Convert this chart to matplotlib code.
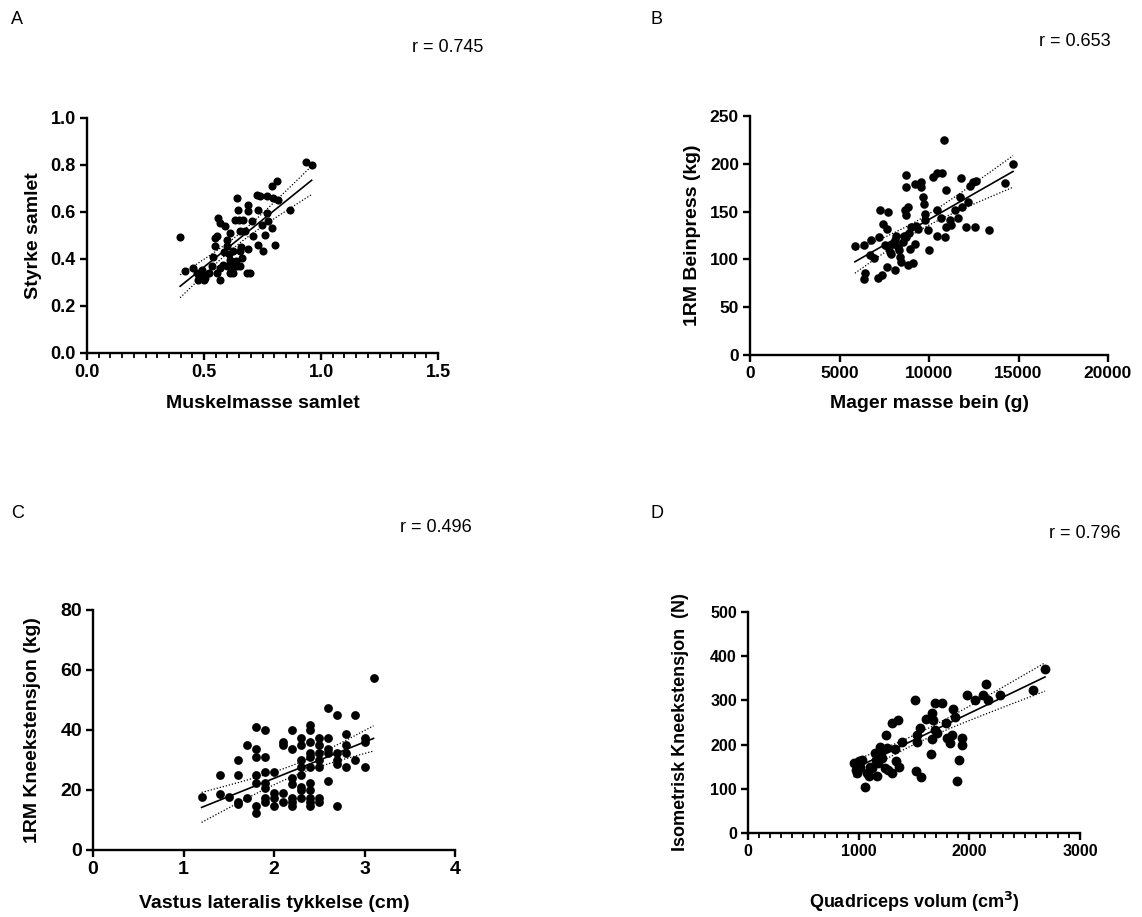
import numpy as np
import matplotlib
matplotlib.use('Agg')
import matplotlib.pyplot as plt
from matplotlib.ticker import MultipleLocator

plt.rcParams['font.family'] = ['Liberation Sans', 'DejaVu Sans']

# ------------------------------------------------------------------
# Data
# ------------------------------------------------------------------
# A: Muskelmasse samlet vs Styrke samlet
muskel_x = [0.398, 0.42, 0.452, 0.47, 0.475, 0.48, 0.495, 0.505, 0.533, 0.54,
            0.547, 0.555, 0.561, 0.569, 0.59, 0.569, 0.58, 0.555, 0.547, 0.597,
            0.611, 0.611, 0.611, 0.626, 0.626, 0.626, 0.633, 0.64, 0.647, 0.651,
            0.654, 0.654, 0.654, 0.661, 0.668, 0.683, 0.69, 0.69, 0.69, 0.697,
            0.704, 0.711, 0.725, 0.732, 0.732, 0.739, 0.747, 0.754, 0.761, 0.768,
            0.768, 0.775, 0.789, 0.789, 0.796, 0.803, 0.81, 0.818, 0.868, 0.938,
            0.96, 0.597, 0.597, 0.618, 0.64, 0.49, 0.52, 0.498, 0.569, 0.605,
            0.62, 0.636, 0.66, 0.585, 0.675]
styrke_y = [0.492, 0.35, 0.362, 0.34, 0.31, 0.325, 0.33, 0.32, 0.369, 0.41,
            0.49, 0.497, 0.574, 0.553, 0.539, 0.312, 0.376, 0.34, 0.454, 0.482,
            0.51, 0.34, 0.397, 0.433, 0.383, 0.34, 0.567, 0.66, 0.61, 0.567,
            0.518, 0.433, 0.369, 0.404, 0.567, 0.34, 0.631, 0.603, 0.444, 0.34,
            0.56, 0.496, 0.674, 0.61, 0.461, 0.667, 0.546, 0.433, 0.504, 0.667,
            0.596, 0.56, 0.532, 0.709, 0.66, 0.461, 0.73, 0.652, 0.61, 0.811,
            0.80, 0.454, 0.369, 0.369, 0.369, 0.355, 0.34, 0.312, 0.362, 0.42,
            0.35, 0.39, 0.45, 0.43, 0.52]
fit_a_x = [0.398, 0.96]
fit_a_y = [0.284, 0.735]

# B: Mager masse bein (g) vs 1RM Beinpress (kg)
mager_x = [5860, 6361, 6417, 6361, 6752, 6696, 6938, 7217, 7254, 7161,
           7347, 7440, 7626, 7682, 7533, 7719, 7626, 7905, 8091, 7998,
           8184, 8277, 8370, 8556, 8463, 8649, 8742, 8705, 8742, 8835,
           8742, 8835, 8928, 9021, 9114, 9207, 9207, 9393, 9579, 9542,
           9672, 9709, 9765, 9765, 10007, 9951, 10230, 10472, 10751, 10472,
           10472, 10695, 10844, 10974, 10881, 10974, 11160, 11253, 11439, 11625,
           11755, 11811, 11867, 12053, 12183, 12276, 12462, 12648, 12555, 13355,
           14229, 14694, 8100, 8350, 8600, 9300, 7800, 8900]
beinpress_y = [113.9, 114.9, 85.3, 80, 120, 104.5, 101, 123.6, 152, 81,
               83.6, 137.5, 132, 149.7, 115, 113, 92, 106, 88.8, 116.6,
               125, 113, 102.7, 118, 97.5, 151.5, 188, 175.8, 146, 155,
               123.6, 94, 111.4, 134, 95.8, 179, 116.6, 132, 181, 175.8,
               165, 158.4, 148, 141, 110, 130.6, 186, 190, 190, 151.5,
               125, 142.8, 225, 173, 123.6, 134, 141, 135.8, 151.5, 142.8,
               165, 185.6, 155, 133.4, 160, 176.5, 181, 181.8, 133.4, 130.6,
               180.4, 200, 120, 110, 125, 135, 108, 128]
fit_b_x = [5860, 14694]
fit_b_y = [97.5, 192]

# C: Vastus lateralis tykkelse (cm) vs 1RM Kneekstensjon (kg)
vl_x = [1.2, 1.4, 1.4, 1.5, 1.6, 1.6, 1.6, 1.6, 1.7, 1.7,
        1.8, 1.8, 1.8, 1.8, 1.8, 1.8, 1.8, 1.9, 1.9, 1.9,
        1.9, 1.9, 1.9, 1.9, 2.0, 2.0, 2.0, 2.0, 2.1, 2.1,
        2.1, 2.1, 2.2, 2.2, 2.2, 2.2, 2.2, 2.2, 2.2, 2.3,
        2.3, 2.3, 2.3, 2.3, 2.3, 2.3, 2.3, 2.4, 2.4, 2.4,
        2.4, 2.4, 2.4, 2.4, 2.4, 2.4, 2.4, 2.4, 2.5, 2.5,
        2.5, 2.5, 2.5, 2.5, 2.5, 2.6, 2.6, 2.6, 2.6, 2.6,
        2.7, 2.7, 2.7, 2.7, 2.7, 2.8, 2.8, 2.8, 2.8, 2.9,
        2.9, 3.0, 3.0, 3.0, 3.1]
kne_1rm_y = [17.8, 25, 18.6, 17.8, 30, 25, 16.1, 15.2, 35, 17.4,
             41.1, 33.7, 31.1, 25, 22.4, 14.8, 12.2, 40, 31.1, 26.1,
             22.4, 20.8, 17.2, 16.1, 26.1, 18.9, 17.2, 14.8, 36.1, 35,
             18.9, 16.1, 40, 33.7, 23.9, 21.9, 17.4, 16.1, 14.8, 37.4,
             35, 30, 27.6, 25, 21.1, 20, 17.4, 41.7, 40, 36.1,
             32.2, 31.1, 27.6, 22.4, 20, 17.4, 16.1, 14.8, 37.4, 35,
             32.4, 30, 27.6, 17.4, 16.1, 47.4, 37.4, 33.7, 32.4, 23.1,
             45, 32.4, 30, 28.7, 14.8, 38.7, 35, 32.4, 27.6, 45,
             30, 37.4, 36.1, 27.6, 57.4]
fit_c_x = [1.2, 3.1]
fit_c_y = [14.2, 37.2]

# D: Quadriceps volum (cm3) vs Isometrisk Kneekstensjon (N)
quad_x = [954, 978, 984, 999, 1029, 1014, 1059, 1074, 1089, 1104,
          1119, 1149, 1155, 1164, 1173, 1188, 1194, 1209, 1224, 1239,
          1248, 1254, 1269, 1299, 1305, 1330, 1339, 1351, 1360, 1390,
          1510, 1519, 1525, 1531, 1555, 1564, 1610, 1652, 1661, 1664,
          1676, 1691, 1691, 1706, 1754, 1790, 1802, 1826, 1841, 1850,
          1871, 1893, 1911, 1932, 1932, 1977, 2052, 2127, 2151, 2172,
          2278, 2573, 2684]
iso_y = [158, 143, 135, 162, 165, 150, 104, 135, 128, 150,
         147, 182, 165, 128, 158, 173, 195, 170, 188, 147,
         222, 192, 143, 135, 248, 189, 162, 256, 149, 207,
         302, 141, 207, 222, 237, 126, 259, 179, 272, 212,
         256, 293, 233, 226, 295, 248, 214, 203, 222, 280,
         263, 118, 165, 214, 199, 312, 301, 312, 338, 302,
         312, 323, 370]
fit_d_x = [954, 2684]
fit_d_y = [145, 353]

r_texts = ['r = 0.745', 'r = 0.653', 'r = 0.496', 'r = 0.796']

# ------------------------------------------------------------------
# Figure
# ------------------------------------------------------------------
W, H = 1142, 917
fig = plt.figure(figsize=(W / 100, H / 100), dpi=100)


def px_axes(left, top, right, bottom):
    return fig.add_axes([left / W, 1 - bottom / H, (right - left) / W, (bottom - top) / H])


def draw_panel(ax, x, y, fit_x, fit_y, size, xlim, ylim, xmaj, ymaj, xlabel, ylabel,
               xminor=None, xlabelpad=4, ylabelpad=4, tick_fs=12.5, label_fs=14,
               xfmt=None, yfmt=None):
    x = np.asarray(x, float)
    y = np.asarray(y, float)
    ax.scatter(x, y, s=size, color='black', zorder=3, clip_on=False, linewidths=0)

    # fitted line with 95% confidence band around it
    slope = (fit_y[1] - fit_y[0]) / (fit_x[1] - fit_x[0])
    intercept = fit_y[0] - slope * fit_x[0]
    xs = np.linspace(fit_x[0], fit_x[1], 100)
    ys = slope * xs + intercept
    n = len(x)
    resid = y - (slope * x + intercept)
    s = np.sqrt(np.sum(resid ** 2) / (n - 2))
    sxx = np.sum((x - x.mean()) ** 2)
    half = 1.99 * s * np.sqrt(1 / n + (xs - x.mean()) ** 2 / sxx)
    ax.plot(xs, ys, color='black', lw=1.2, zorder=4)
    ax.plot(xs, ys + half, color='black', lw=0.9, ls=(0, (1, 1.5)), zorder=4)
    ax.plot(xs, ys - half, color='black', lw=0.9, ls=(0, (1, 1.5)), zorder=4)

    ax.set_xlim(*xlim)
    ax.set_ylim(*ylim)
    ax.xaxis.set_major_locator(MultipleLocator(xmaj))
    ax.yaxis.set_major_locator(MultipleLocator(ymaj))
    if xminor:
        ax.xaxis.set_minor_locator(MultipleLocator(xminor))
    if xfmt:
        ax.xaxis.set_major_formatter(xfmt)
    if yfmt:
        ax.yaxis.set_major_formatter(yfmt)

    for side in ['top', 'right']:
        ax.spines[side].set_visible(False)
    for side in ['left', 'bottom']:
        ax.spines[side].set_linewidth(1.7)
    ax.tick_params(which='major', direction='out', length=5, width=1.7,
                   labelsize=tick_fs, pad=3)
    ax.tick_params(which='minor', direction='out', length=3.5, width=1.3)
    for lab in ax.get_xticklabels() + ax.get_yticklabels():
        lab.set_fontweight('bold')
    ax.set_xlabel(xlabel, fontsize=label_fs, fontweight='bold', labelpad=xlabelpad)
    ax.set_ylabel(ylabel, fontsize=label_fs, fontweight='bold', labelpad=ylabelpad)


ax_a = px_axes(87, 118, 438, 353)
draw_panel(ax_a, muskel_x, styrke_y, fit_a_x, fit_a_y, 34, (0, 1.5), (0, 1.0), 0.5, 0.2,
           'Muskelmasse samlet', 'Styrke samlet', xminor=0.05,
           xlabelpad=10, ylabelpad=6, tick_fs=13, label_fs=14,
           xfmt='{x:.1f}', yfmt='{x:.1f}')

ax_b = px_axes(750, 116, 1108, 355)
draw_panel(ax_b, mager_x, beinpress_y, fit_b_x, fit_b_y, 38, (0, 20000), (0, 250), 5000, 50,
           'Mager masse bein (g)', '1RM Beinpress (kg)',
           xlabelpad=10, ylabelpad=6, tick_fs=12.5, label_fs=14,
           xfmt='{x:.0f}', yfmt='{x:.0f}')

ax_c = px_axes(93, 610, 455, 850)
draw_panel(ax_c, vl_x, kne_1rm_y, fit_c_x, fit_c_y, 40, (0, 4), (0, 80), 1, 20,
           'Vastus lateralis tykkelse (cm)', '1RM Kneekstensjon (kg)',
           xlabelpad=12, ylabelpad=14, tick_fs=14, label_fs=14,
           xfmt='{x:.0f}', yfmt='{x:.0f}')

ax_d = px_axes(748, 612, 1080, 833)
draw_panel(ax_d, quad_x, iso_y, fit_d_x, fit_d_y, 50, (0, 3000), (0, 500), 1000, 100,
           'Quadriceps volum (cm$^\\mathbf{3}$)', 'Isometrisk Kneekstensjon  (N)',
           xminor=100, xlabelpad=22, ylabelpad=15, tick_fs=11.5, label_fs=13,
           xfmt='{x:.0f}', yfmt='{x:.0f}')

# panel letters and correlation coefficients
for letter, (lx, ly) in zip(['A', 'B', 'C', 'D'],
                            [(11, 19), (650, 19), (11, 514), (650, 513)]):
    fig.text(lx / W, 1 - ly / H, letter, fontsize=13, ha='left', va='center')

for txt, (rx, ry) in zip(r_texts, [(483, 47), (1111, 41), (472, 527), (1121, 533)]):
    fig.text(rx / W, 1 - ry / H, txt, fontsize=13, ha='right', va='center')

fig.savefig('out.png', dpi=100)
